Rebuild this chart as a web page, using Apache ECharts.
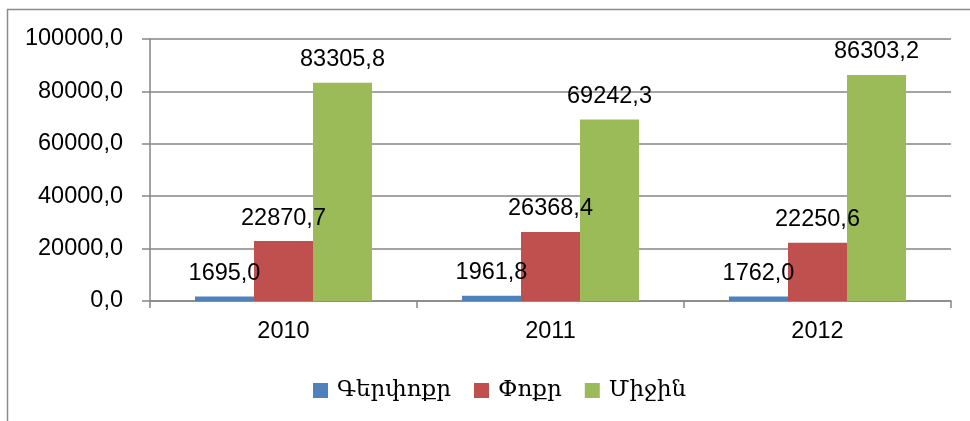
<!DOCTYPE html>
<html>
<head>
<meta charset="utf-8">
<script src="https://cdn.jsdelivr.net/npm/echarts@6/dist/echarts.min.js"></script>
<style>
html, body { margin: 0; padding: 0; background: #fff; }
#chart { width: 970px; height: 421px; }
</style>
</head>
<body>
<div id="chart"></div>
<script>
const years = ['2010', '2011', '2012'];
const seriesNames = ['Գերփոքր', 'Փոքր', 'Միջին'];
const verySmall = [1695.0, 1961.8, 1762.0];
const small = [22870.7, 26368.4, 22250.6];
const medium = [83305.8, 69242.3, 86303.2];
const colors = ['#4F81BD', '#C0504D', '#9BBB59'];

const fmt = v => v.toFixed(1).replace('.', ',');
const numFont = 'Liberation Sans';

function bar(name, data, color) {
    return {
        name: name,
        type: 'bar',
        data: data,
        barWidth: 59,
        barGap: '0%',
        itemStyle: { color: color },
        label: {
            show: true,
            position: 'top',
            distance: 11,
            color: '#000',
            fontFamily: numFont,
            fontSize: 23.5,
            formatter: p => fmt(p.value)
        }
    };
}

const chart = echarts.init(document.getElementById('chart'));
chart.setOption({
    animation: false,
    backgroundColor: '#fff',
    graphic: [{
        type: 'rect',
        shape: { x: 7.5, y: 9.5, width: 1000, height: 500 },
        style: { fill: 'none', stroke: '#8c8c8c', lineWidth: 1.5 },
        silent: true
    }],
    grid: { left: 150, right: 19, top: 39, bottom: 120 },
    legend: {
        top: 379,
        left: 313,
        padding: 0,
        itemWidth: 15,
        itemHeight: 15,
        itemGap: 23,
        icon: 'rect',
        textStyle: { fontFamily: 'DejaVu Serif', fontSize: 23, color: '#000', padding: [0, 0, 0, 4] },
        data: seriesNames
    },
    xAxis: {
        type: 'category',
        data: years,
        axisLine: { lineStyle: { color: '#868686', width: 1.5 } },
        axisTick: { show: true, length: 7, lineStyle: { color: '#868686', width: 1.5 } },
        axisLabel: { color: '#000', fontFamily: numFont, fontSize: 23.5, margin: 19 }
    },
    yAxis: {
        type: 'value',
        min: 0,
        max: 100000,
        interval: 20000,
        axisLine: { show: true, lineStyle: { color: '#868686', width: 1.5 } },
        axisTick: { show: true, length: 8, lineStyle: { color: '#868686', width: 1.5 } },
        splitLine: { lineStyle: { color: '#868686', width: 1.5 } },
        axisLabel: { color: '#000', fontFamily: numFont, fontSize: 23.5, margin: 27, formatter: v => fmt(v) }
    },
    series: [
        bar(seriesNames[0], verySmall, colors[0]),
        bar(seriesNames[1], small, colors[1]),
        bar(seriesNames[2], medium, colors[2])
    ]
});
</script>
</body>
</html>
